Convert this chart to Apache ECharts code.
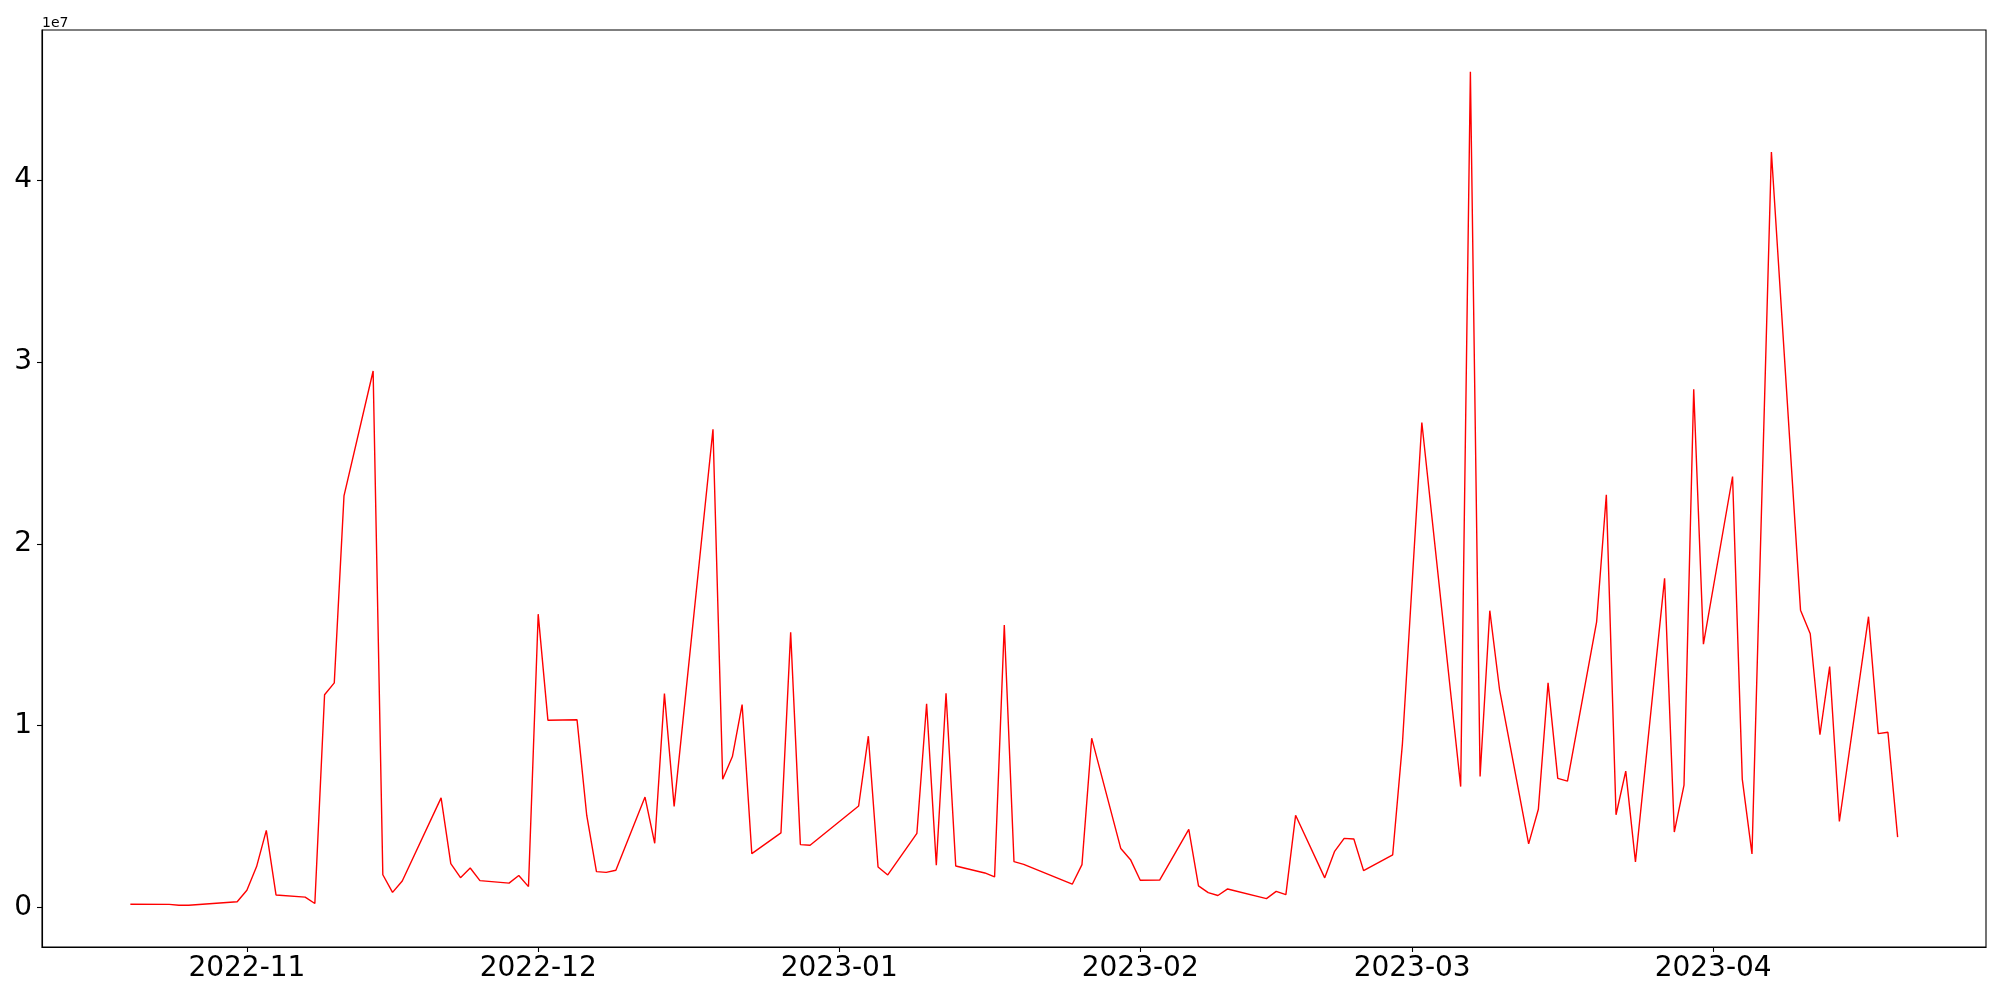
<!DOCTYPE html>
<html>
<head>
<meta charset="utf-8">
<script src="https://cdn.jsdelivr.net/npm/echarts@6/dist/echarts.min.js"></script>
<style>
html,body{margin:0;padding:0;background:#fff;}
#chart{width:2000px;height:1000px;}
</style>
</head>
<body>
<div id="chart"></div>
<script>
// ---- data ----
const dates = [
 '2022-10-20','2022-10-24','2022-10-25','2022-10-26','2022-10-31',
 '2022-11-01','2022-11-02','2022-11-03','2022-11-04','2022-11-07','2022-11-08','2022-11-09','2022-11-10','2022-11-11',
 '2022-11-14','2022-11-15','2022-11-16','2022-11-17','2022-11-21','2022-11-22','2022-11-23','2022-11-24','2022-11-25',
 '2022-11-28','2022-11-29','2022-11-30','2022-12-01','2022-12-02','2022-12-05','2022-12-06','2022-12-07','2022-12-08',
 '2022-12-09','2022-12-12','2022-12-13','2022-12-14','2022-12-15','2022-12-19','2022-12-20','2022-12-21','2022-12-22',
 '2022-12-23','2022-12-26','2022-12-27','2022-12-28','2022-12-29','2023-01-03','2023-01-04','2023-01-05','2023-01-06',
 '2023-01-09','2023-01-10','2023-01-11','2023-01-12','2023-01-13','2023-01-16','2023-01-17','2023-01-18','2023-01-19',
 '2023-01-20','2023-01-25','2023-01-26','2023-01-27','2023-01-30','2023-01-31','2023-02-01','2023-02-03','2023-02-06',
 '2023-02-07','2023-02-08','2023-02-09','2023-02-10','2023-02-14','2023-02-15','2023-02-16','2023-02-17','2023-02-20',
 '2023-02-21','2023-02-22','2023-02-23','2023-02-24','2023-02-27','2023-02-28','2023-03-02','2023-03-06','2023-03-07',
 '2023-03-08','2023-03-09','2023-03-10','2023-03-13','2023-03-14','2023-03-15','2023-03-16','2023-03-17','2023-03-20',
 '2023-03-21','2023-03-22','2023-03-23','2023-03-24','2023-03-27','2023-03-28','2023-03-29','2023-03-30','2023-03-31',
 '2023-04-03','2023-04-04','2023-04-05','2023-04-07','2023-04-10','2023-04-11','2023-04-12','2023-04-13','2023-04-14',
 '2023-04-17','2023-04-18','2023-04-19','2023-04-20'
];
const volumes = [
 180000,170000,120000,125000,320000,
 950000,2250000,4240000,690000,570000,220000,11700000,12350000,22630000,
 29500000,1800000,830000,1460000,6030000,2410000,1640000,2170000,1480000,
 1340000,1760000,1150000,16130000,10300000,10320000,5060000,1970000,1930000,
 2050000,6070000,3530000,11760000,5560000,26300000,7050000,8300000,11160000,
 2960000,4100000,15130000,3460000,3420000,5580000,9420000,2230000,1790000,
 4080000,11200000,2320000,11780000,2280000,1900000,1680000,15530000,2520000,
 2370000,1280000,2360000,9310000,3240000,2630000,1500000,1510000,4300000,
 1190000,820000,660000,1020000,490000,890000,710000,5070000,1630000,
 3070000,3800000,3770000,2030000,2900000,9000000,26670000,6650000,45960000,
 7200000,16320000,12000000,3500000,5400000,12350000,7100000,6950000,15700000,
 22700000,5100000,7500000,2500000,18100000,4150000,6730000,28500000,14480000,
 23700000,7060000,2940000,41540000,16350000,15050000,9500000,13250000,4730000,
 15990000,9560000,9640000,3870000
];
const xTickMonths = ['2022-11-01','2022-12-01','2023-01-01','2023-02-01','2023-03-01','2023-04-01'];
const yTicks = [0, 10000000, 20000000, 30000000, 40000000];
const yScaleLabel = '1e7';

// ---- build ----
function toTs(s){ const p = s.split('-').map(Number); return Date.UTC(p[0], p[1]-1, p[2]); }
const seriesData = dates.map((d,i)=>[toTs(d), volumes[i]]);
const tsArr = seriesData.map(p=>p[0]);
const tMin = Math.min(...tsArr), tMax = Math.max(...tsArr);
const vMin = Math.min(...volumes), vMax = Math.max(...volumes);
const xPad = (tMax - tMin) * 0.05, yPad = (vMax - vMin) * 0.05;
const xTicks = xTickMonths.map(toTs);

function pad2(n){ return (n<10?'0':'') + n; }

const chart = echarts.init(document.getElementById('chart'), null, {renderer:'canvas'});
const FONT = 'DejaVu Sans';
chart.setOption({
  animation: false,
  backgroundColor: '#ffffff',
  grid: {left: 42, right: 14, top: 30, bottom: 53, show: true, borderColor: '#000', borderWidth: 1.1, backgroundColor: 'transparent', containLabel: false},
  xAxis: {
    type: 'value',
    min: tMin - xPad,
    max: tMax + xPad,
    splitLine: {show: false},
    axisLine: {show: true, onZero: false, lineStyle: {color: '#000', width: 1.1}},
    axisTick: {show: true, customValues: xTicks, length: 5, inside: false, lineStyle: {color: '#000', width: 1.1}},
    axisLabel: {
      show: true, customValues: xTicks, margin: 8, color: '#000', fontFamily: FONT, fontSize: 28,
      formatter: function(v){ const d = new Date(v); return d.getUTCFullYear() + '-' + pad2(d.getUTCMonth()+1); }
    }
  },
  yAxis: {
    type: 'value',
    min: vMin - yPad,
    max: vMax + yPad,
    splitLine: {show: false},
    axisLine: {show: true, onZero: false, lineStyle: {color: '#000', width: 1.1}},
    axisTick: {show: true, customValues: yTicks, length: 5, lineStyle: {color: '#000', width: 1.1}},
    axisLabel: {
      show: true, customValues: yTicks, margin: 10, color: '#000', fontFamily: FONT, fontSize: 28,
      formatter: function(v){ return String(Math.round(v / 1e7)); }
    }
  },
  graphic: [{
    type: 'text', left: 42, top: 16,
    style: {text: yScaleLabel, fill: '#000', font: '14px "DejaVu Sans"'}
  }],
  series: [{
    type: 'line',
    data: seriesData,
    showSymbol: false,
    symbol: 'none',
    lineStyle: {color: '#ff0000', width: 1.4},
    itemStyle: {color: '#ff0000'},
    clip: true
  }]
});
</script>
</body>
</html>
